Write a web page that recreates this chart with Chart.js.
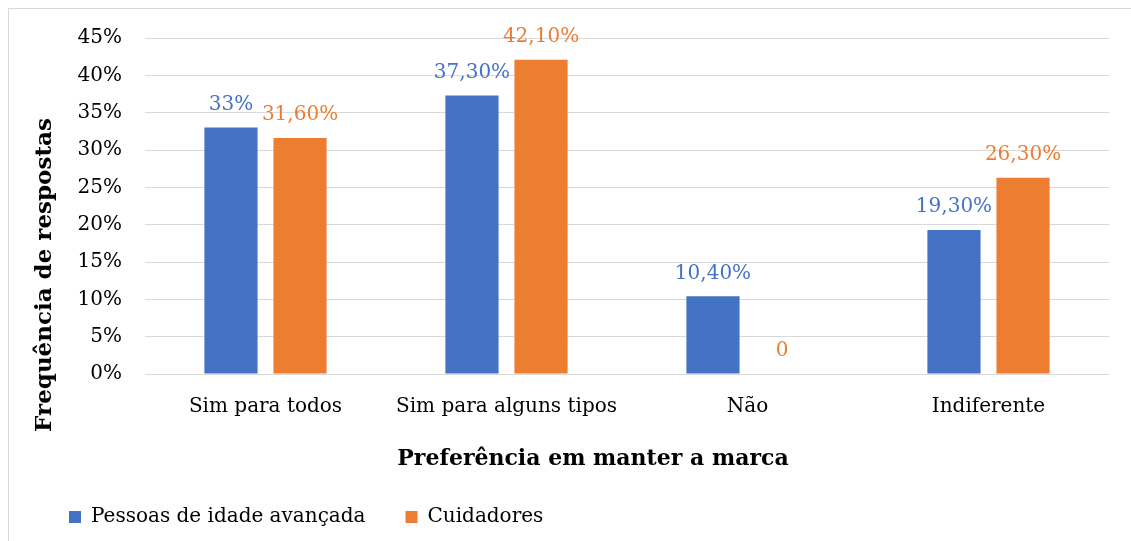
<!DOCTYPE html>
<html lang="pt">
<head>
<meta charset="UTF-8">
<title>Preferência em manter a marca</title>
<script src="https://cdn.jsdelivr.net/npm/chart.js@4"></script>
<style>
  body { margin: 0; background: #fff; overflow: hidden; }
  .viewport {
    position: absolute;
    left: 0;
    top: 0;
    width: 1131px;
    height: 541px;
    overflow: hidden;
  }
  .frame {
    position: absolute;
    left: 8px;
    top: 8px;
    width: 1168px;
    height: 532px;
    border: 1px solid #d9d9d9;
  }
</style>
</head>
<body>
<div class="viewport">
  <div class="frame">
    <canvas id="chart"></canvas>
  </div>
</div>
<script>
const categories = ['Sim para todos', 'Sim para alguns tipos', 'Não', 'Indiferente'];
const pessoas = [33, 37.3, 10.4, 19.3];
const cuidadores = [31.6, 42.1, 0, 26.3];
const pessoasText = ['33%', '37,30%', '10,40%', '19,30%'];
const cuidadoresText = ['31,60%', '42,10%', '0', '26,30%'];
const yTicks = [0, 5, 10, 15, 20, 25, 30, 35, 40, 45];
const xTitle = 'Preferência em manter a marca';
const yTitle = 'Frequência de respostas';

const FONT = '"DejaVu Serif", "Liberation Serif", serif';
const BLUE = '#4472c4';
const ORANGE = '#ed7d31';

// value labels above the bars
const valueLabels = {
  id: 'valueLabels',
  afterDatasetsDraw(chart) {
    const ctx = chart.ctx;
    const texts = [pessoasText, cuidadoresText];
    ctx.save();
    ctx.font = '20px ' + FONT;
    ctx.textAlign = 'center';
    ctx.textBaseline = 'middle';
    chart.data.datasets.forEach((ds, i) => {
      ctx.fillStyle = ds.backgroundColor;
      chart.getDatasetMeta(i).data.forEach((bar, j) => {
        ctx.fillText(texts[i][j], bar.x, bar.y - 23);
      });
    });
    ctx.restore();
  }
};

// axis titles centred on the whole chart, like the original
const axisTitles = {
  id: 'axisTitles',
  afterDraw(chart) {
    const ctx = chart.ctx;
    ctx.save();
    ctx.fillStyle = '#000';
    ctx.textAlign = 'center';
    ctx.textBaseline = 'middle';
    ctx.font = 'bold 22px ' + FONT;
    ctx.fillText(xTitle, chart.width / 2, chart.chartArea.bottom + 85);
    ctx.font = 'bold 23px ' + FONT;
    ctx.translate(36, chart.height / 2);
    ctx.rotate(-Math.PI / 2);
    ctx.fillText(yTitle, 0, 0);
    ctx.restore();
  }
};

new Chart(document.getElementById('chart'), {
  type: 'bar',
  data: {
    labels: categories,
    datasets: [
      { label: 'Pessoas de idade avançada', data: pessoas, backgroundColor: BLUE },
      { label: 'Cuidadores', data: cuidadores, backgroundColor: ORANGE }
    ]
  },
  options: {
    responsive: true,
    maintainAspectRatio: false,
    animation: false,
    categoryPercentage: 0.573,
    barPercentage: 0.77,
    layout: { padding: { left: 20, right: 68, top: 29, bottom: 14 } },
    scales: {
      x: {
        grid: { display: false, drawTicks: false },
        border: { display: false },
        ticks: { color: '#000', padding: 21, font: { family: FONT, size: 20 } },
        afterFit: s => { s.height = 93; }
      },
      y: {
        min: 0,
        max: 45,
        afterBuildTicks: s => { s.ticks = yTicks.map(v => ({ value: v })); },
        grid: { color: '#d9d9d9', drawTicks: false },
        border: { display: false },
        ticks: {
          color: '#000',
          padding: 23,
          font: { family: FONT, size: 20 },
          callback: v => v + '%'
        },
        afterFit: s => {
          s.width = 116;
          s.paddingTop = 12;
          s.paddingBottom = 12;
        }
      }
    },
    plugins: {
      legend: {
        position: 'bottom',
        align: 'start',
        maxHeight: 60,
        labels: {
          boxWidth: 12,
          boxHeight: 12,
          padding: 40,
          color: '#000',
          font: { family: FONT, size: 20 }
        }
      },
      tooltip: { enabled: false }
    }
  },
  plugins: [valueLabels, axisTitles]
});
</script>
</body>
</html>
